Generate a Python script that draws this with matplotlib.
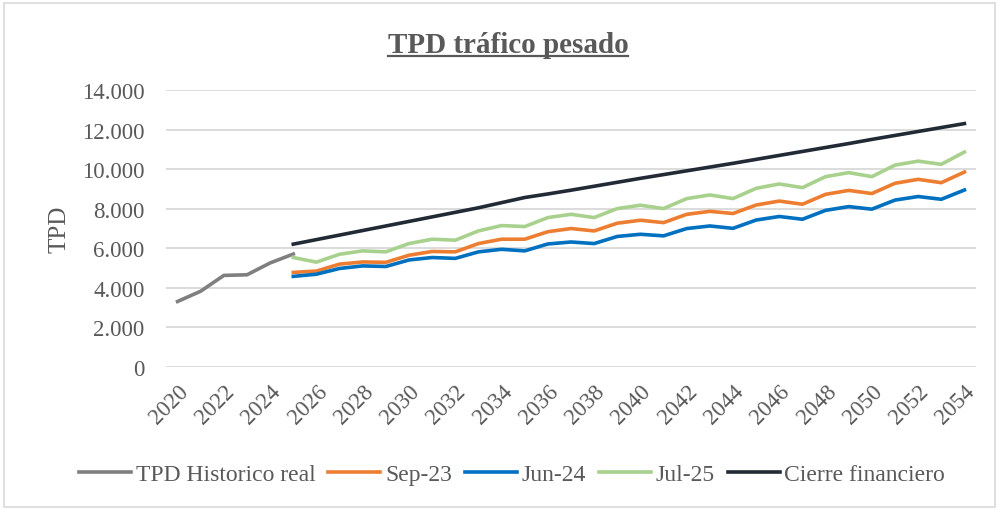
import numpy as np
import matplotlib
matplotlib.use("Agg")
import matplotlib.pyplot as plt
from matplotlib.patches import Rectangle
from matplotlib.lines import Line2D
from matplotlib.ticker import FuncFormatter

# data
years = list(range(2020, 2055))
hist_years = list(range(2020, 2026))
proj_years = list(range(2025, 2055))

historico = [3300, 3820, 4620, 4650, 5250, 5700]
sep23 = [4770, 4840, 5190, 5300, 5280, 5640, 5830, 5810, 6230, 6450,
         6450, 6830, 6990, 6870, 7260, 7410, 7290, 7710, 7860, 7750,
         8180, 8380, 8220, 8720, 8920, 8760, 9280, 9480, 9310, 9850]
jun24 = [4570, 4680, 4970, 5100, 5070, 5400, 5525, 5480, 5810, 5940,
         5860, 6210, 6310, 6230, 6590, 6700, 6620, 6990, 7120, 7000,
         7420, 7600, 7460, 7910, 8100, 7970, 8430, 8610, 8470, 8940]
jul25 = [5525, 5290, 5690, 5860, 5810, 6230, 6450, 6400, 6870, 7140,
         7090, 7545, 7710, 7545, 8000, 8170, 8000, 8505, 8690, 8505,
         9025, 9245, 9060, 9615, 9820, 9615, 10200, 10400, 10240, 10860]
cierre = [6200, 6430, 6660, 6890, 7120, 7350, 7580, 7810, 8040, 8300,
          8560, 8740, 8930, 9130, 9330, 9530, 9720, 9910, 10100, 10290,
          10490, 10690, 10890, 11090, 11290, 11500, 11700, 11900, 12100, 12300]

serif = ["Liberation Serif", "DejaVu Serif"]
txt = "#595959"
plt.rcParams["font.family"] = serif

fig = plt.figure(figsize=(10, 5.1), dpi=100)
ax = fig.add_axes([0.166, 0.279, 0.81, 0.5426])

lw = 2.6
ax.plot(hist_years, historico, color="#7F7F7F", lw=lw, label="TPD Historico real")
ax.plot(proj_years, sep23, color="#ED7D31", lw=lw, label="Sep-23")
ax.plot(proj_years, jun24, color="#0070C0", lw=lw, label="Jun-24")
ax.plot(proj_years, jul25, color="#A9D18E", lw=lw, label="Jul-25")
ax.plot(proj_years, cierre, color="#222A35", lw=lw, label="Cierre financiero")

ax.set_xlim(2019.5, 2054.5)
ax.set_ylim(0, 14000)
ax.set_yticks(range(0, 14001, 2000))
ax.yaxis.set_major_formatter(FuncFormatter(lambda v, p: f"{int(v):,}".replace(",", ".")))
ax.set_xticks(range(2020, 2055, 2))
ax.grid(axis="y", color="#D9D9D9", lw=1.3)
ax.set_axisbelow(True)
for s in ax.spines.values():
    s.set_visible(False)
ax.tick_params(length=0, colors=txt, labelsize=16.5)
ax.tick_params(axis="y", pad=15.5)
for lab in ax.get_xticklabels():
    lab.set_rotation(45)
    lab.set_ha("right")
    lab.set_rotation_mode("anchor")
ax.tick_params(axis="x", pad=10)

ax.set_ylabel("TPD", fontsize=18, color=txt, labelpad=8)

title = fig.text(0.508, 0.91, "TPD tráfico pesado", ha="center", va="center",
                 fontsize=21, fontweight="bold", color=txt)

fig.legend(loc="center", bbox_to_anchor=(0.512, 0.068), ncol=5, frameon=False,
           fontsize=17, labelcolor=txt, handlelength=2.2, handletextpad=0.2,
           columnspacing=0.55)

# underline the title
fig.canvas.draw()
bb = title.get_window_extent().transformed(fig.transFigure.inverted())
fig.add_artist(Line2D([bb.x0, bb.x1], [bb.y0 + 0.004, bb.y0 + 0.004],
                      transform=fig.transFigure, color=txt, lw=1.6))

# chart border
fig.add_artist(Rectangle((0.004, 0.003), 0.991, 0.99, transform=fig.transFigure,
                         fill=False, edgecolor="#D9D9D9", lw=1.2))

fig.savefig("out.png", dpi=100)
